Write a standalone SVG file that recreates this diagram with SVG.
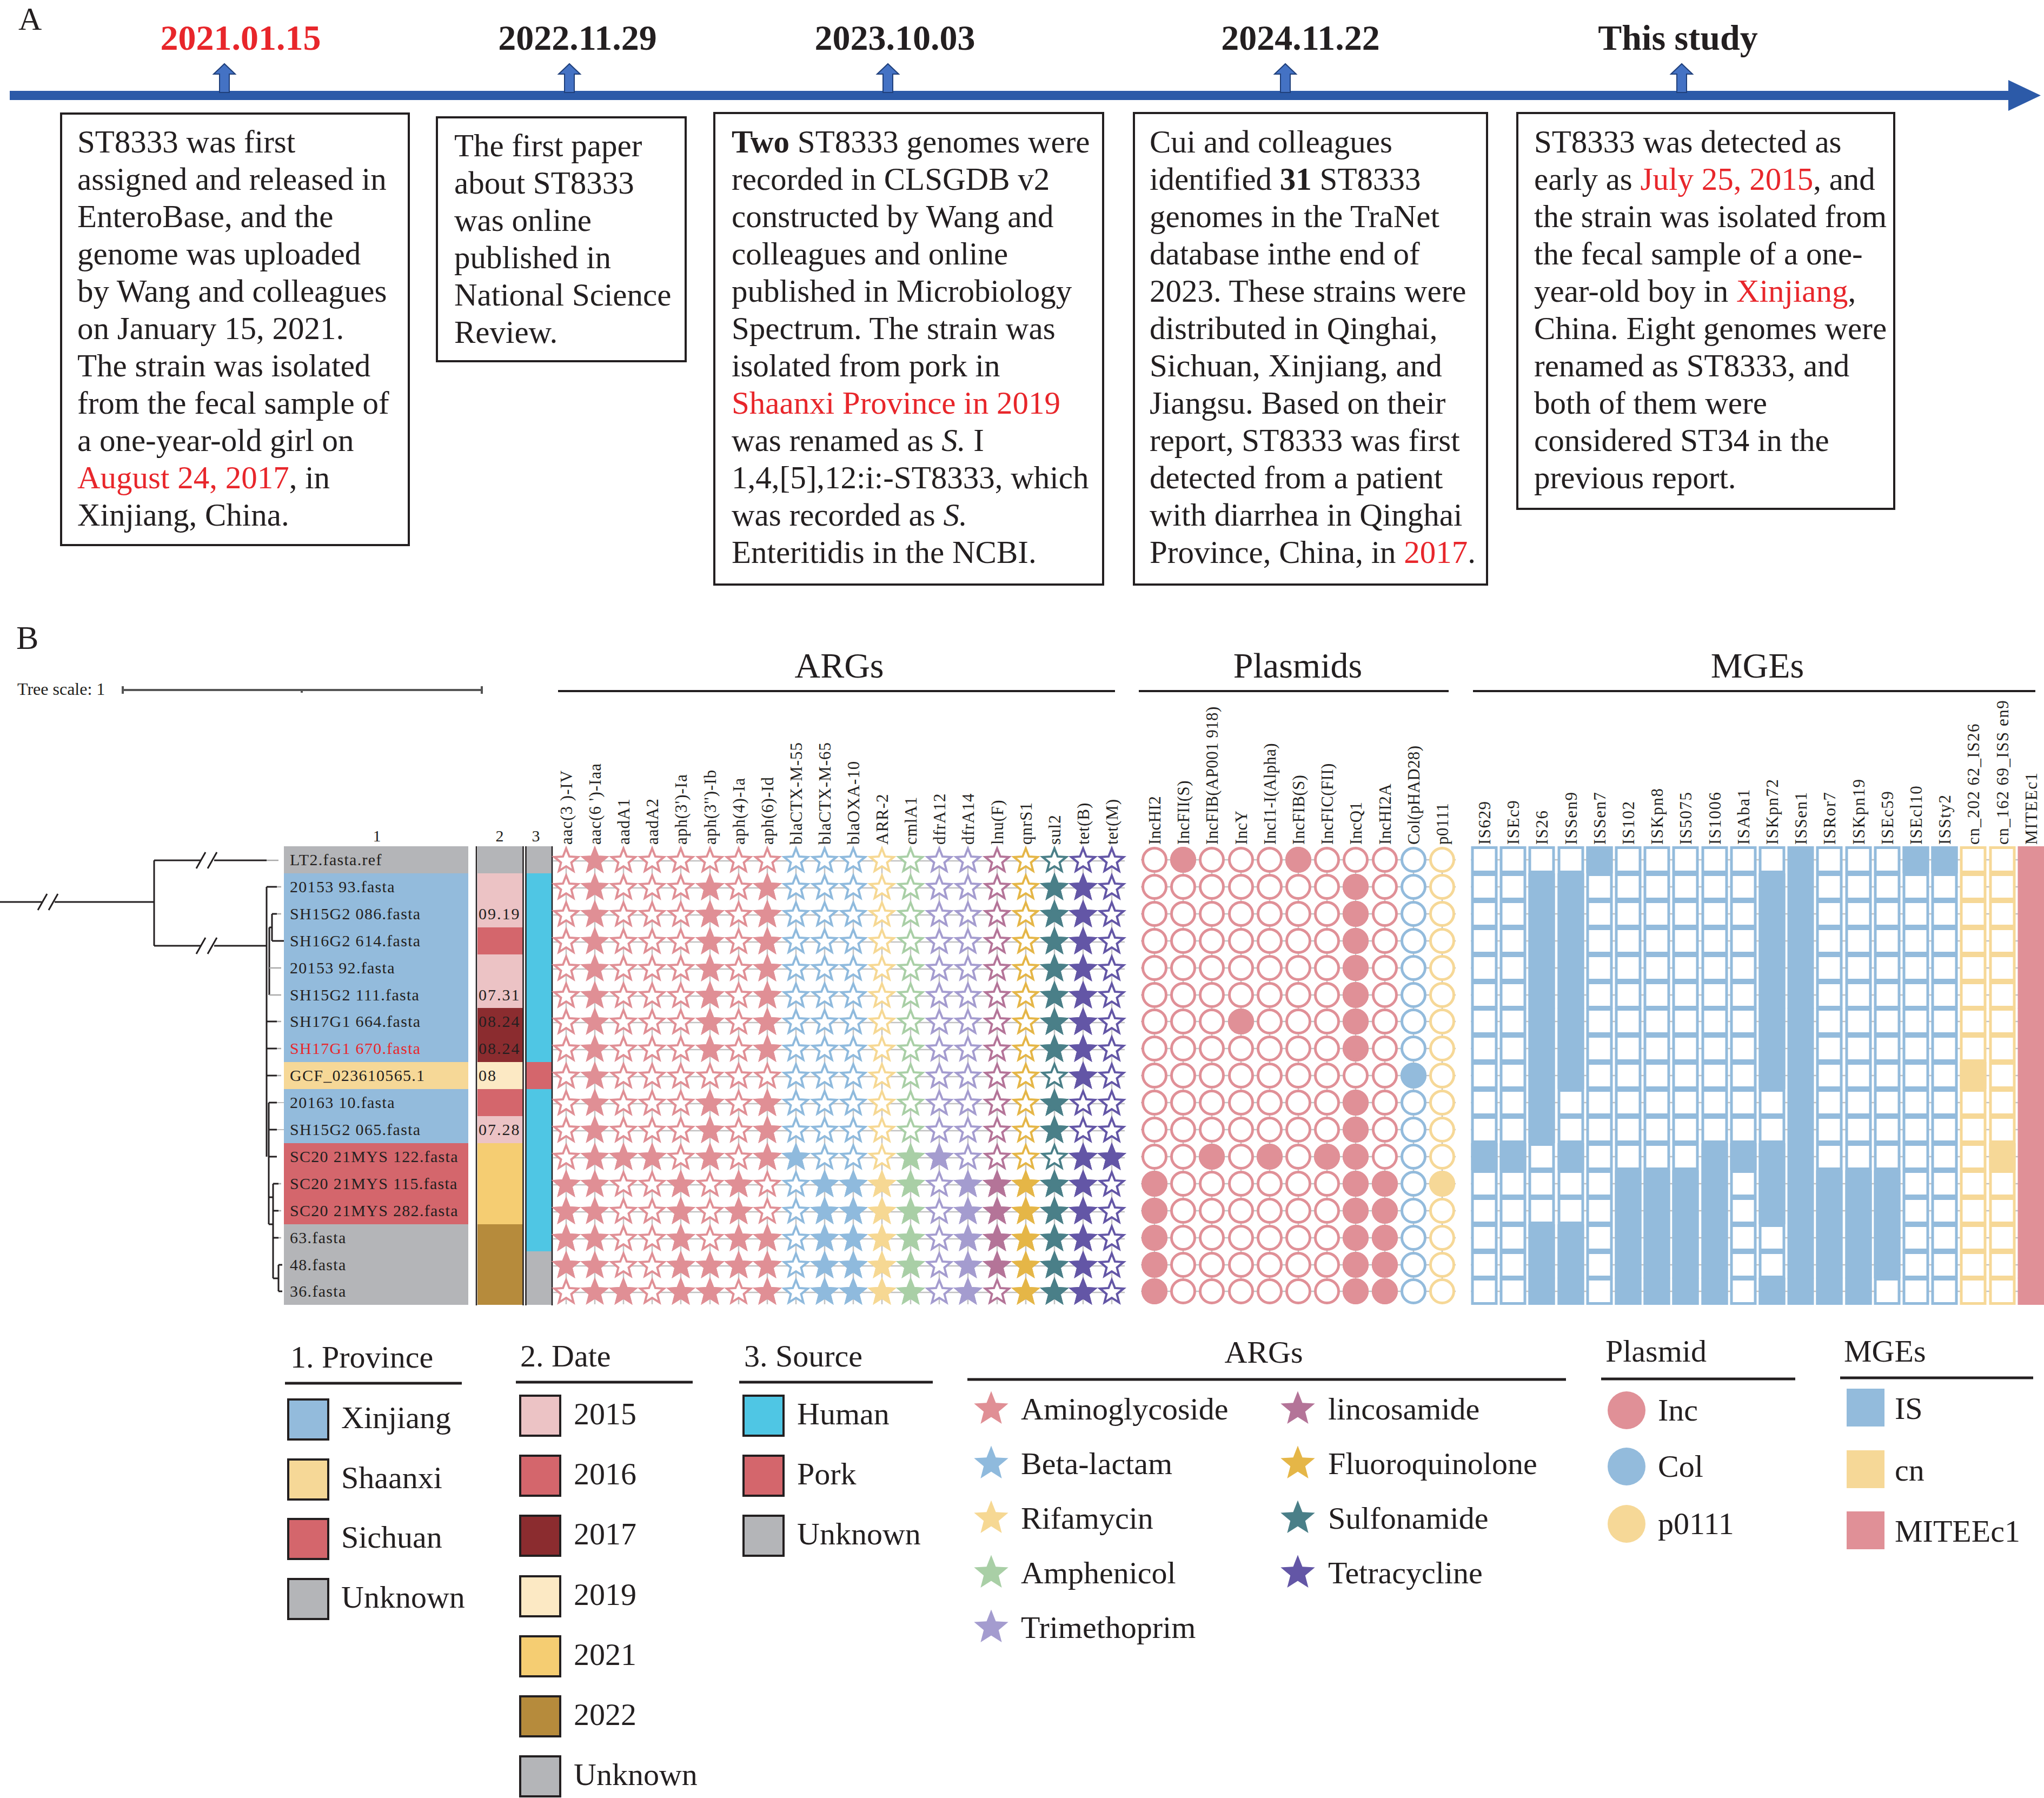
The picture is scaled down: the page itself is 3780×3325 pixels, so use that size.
<svg xmlns="http://www.w3.org/2000/svg" xmlns:xlink="http://www.w3.org/1999/xlink" width="3780" height="3325" viewBox="0 0 3780 3325">
<style>
text{font-family:'Liberation Serif','Times New Roman',serif;fill:#231f20}
.t{font-size:59px}
.red{fill:#e8262b}
.date{font-size:66px;font-weight:bold;text-anchor:middle}
.box{fill:#fff;stroke:#231f20;stroke-width:4}
.lbl{font-size:30px;letter-spacing:1.3px}
.dl{font-size:30px;letter-spacing:2px}
.ha{font-size:31px;letter-spacing:1px}
.hp{font-size:31px;letter-spacing:0.4px}
.hm{font-size:31px;letter-spacing:1.5px}
.sec{font-size:66px;text-anchor:middle}
.leg{font-size:58px}
.rule{stroke:#231f20;stroke-width:5}
.e{fill:#fff}
.f{fill:currentColor}
.col{stroke:currentColor;stroke-width:4}
.colw{stroke:currentColor;stroke-width:5}
.k0{color:#e08f95}.k1{color:#8fbadd}.k2{color:#f6d893}.k3{color:#a9cfa6}.k4{color:#a49ccf}
.k5{color:#b47498}.k6{color:#e5b647}.k7{color:#4a7f88}.k8{color:#6356a6}
.kb{color:#93bbdc}.ky{color:#f6d897}.kp{color:#e09097}
.grid{stroke:#c2c2c2;stroke-width:2.5;fill:none}
.lb{stroke:#231f20;stroke-width:4}
</style>
<defs>
<path id="s" d="M0,-21 L5.88,-6.09 L21.87,-5.11 L9.51,5.09 L13.52,20.61 L0,12 L-13.52,20.61 L-9.51,5.09 L-21.87,-5.11 L-5.88,-6.09Z"/>
<circle id="c" r="21.5"/>
<rect id="q" x="-22" y="-22.5" width="44" height="45"/>
<path id="ua" d="M-9 171V137H-20L0 118L20 137H9V171Z" fill="#4472c4" stroke="#1f3f7a" stroke-width="2"/>
<g id="sc"><use href="#s" y="1590" class="e"/><use href="#s" y="1640" class="e"/><use href="#s" y="1690" class="e"/><use href="#s" y="1740" class="e"/><use href="#s" y="1790" class="e"/><use href="#s" y="1840" class="e"/><use href="#s" y="1889" class="e"/><use href="#s" y="1939" class="e"/><use href="#s" y="1989" class="e"/><use href="#s" y="2039" class="e"/><use href="#s" y="2089" class="e"/><use href="#s" y="2139" class="e"/><use href="#s" y="2189" class="e"/><use href="#s" y="2239" class="e"/><use href="#s" y="2289" class="e"/><use href="#s" y="2339" class="e"/><use href="#s" y="2388" class="e"/></g>
<g id="scf"><use href="#s" y="1590" class="f"/><use href="#s" y="1640" class="f"/><use href="#s" y="1690" class="f"/><use href="#s" y="1740" class="f"/><use href="#s" y="1790" class="f"/><use href="#s" y="1840" class="f"/><use href="#s" y="1889" class="f"/><use href="#s" y="1939" class="f"/><use href="#s" y="1989" class="f"/><use href="#s" y="2039" class="f"/><use href="#s" y="2089" class="f"/><use href="#s" y="2139" class="f"/><use href="#s" y="2189" class="f"/><use href="#s" y="2239" class="f"/><use href="#s" y="2289" class="f"/><use href="#s" y="2339" class="f"/><use href="#s" y="2388" class="f"/></g>
<g id="cc"><use href="#c" y="1590" class="e"/><use href="#c" y="1640" class="e"/><use href="#c" y="1690" class="e"/><use href="#c" y="1740" class="e"/><use href="#c" y="1790" class="e"/><use href="#c" y="1840" class="e"/><use href="#c" y="1889" class="e"/><use href="#c" y="1939" class="e"/><use href="#c" y="1989" class="e"/><use href="#c" y="2039" class="e"/><use href="#c" y="2089" class="e"/><use href="#c" y="2139" class="e"/><use href="#c" y="2189" class="e"/><use href="#c" y="2239" class="e"/><use href="#c" y="2289" class="e"/><use href="#c" y="2339" class="e"/><use href="#c" y="2388" class="e"/></g>
<g id="qc"><use href="#q" y="1590" class="e"/><use href="#q" y="1640" class="e"/><use href="#q" y="1690" class="e"/><use href="#q" y="1740" class="e"/><use href="#q" y="1790" class="e"/><use href="#q" y="1840" class="e"/><use href="#q" y="1889" class="e"/><use href="#q" y="1939" class="e"/><use href="#q" y="1989" class="e"/><use href="#q" y="2039" class="e"/><use href="#q" y="2089" class="e"/><use href="#q" y="2139" class="e"/><use href="#q" y="2189" class="e"/><use href="#q" y="2239" class="e"/><use href="#q" y="2289" class="e"/><use href="#q" y="2339" class="e"/><use href="#q" y="2388" class="e"/></g>
<g id="qcf"><use href="#q" y="1590" class="f"/><use href="#q" y="1640" class="f"/><use href="#q" y="1690" class="f"/><use href="#q" y="1740" class="f"/><use href="#q" y="1790" class="f"/><use href="#q" y="1840" class="f"/><use href="#q" y="1889" class="f"/><use href="#q" y="1939" class="f"/><use href="#q" y="1989" class="f"/><use href="#q" y="2039" class="f"/><use href="#q" y="2089" class="f"/><use href="#q" y="2139" class="f"/><use href="#q" y="2189" class="f"/><use href="#q" y="2239" class="f"/><use href="#q" y="2289" class="f"/><use href="#q" y="2339" class="f"/><use href="#q" y="2388" class="f"/></g>
</defs>
<rect width="3780" height="3325" fill="#fff"/>

<!-- Panel A -->
<g id="panelA">
<text x="34" y="55" font-size="60">A</text>
<g id="timeline">
<rect x="18" y="168" width="3700" height="17" fill="#2c5aa8"/>
<polygon points="3714,148 3774,176.5 3714,205" fill="#2c5aa8"/>
<use href="#ua" x="415"/><use href="#ua" x="1053"/><use href="#ua" x="1642"/><use href="#ua" x="2377"/><use href="#ua" x="3110"/>
</g>
<g id="dates">
<text class="date red" x="445" y="92">2021.01.15</text>
<text class="date" x="1068" y="92">2022.11.29</text>
<text class="date" x="1655" y="92">2023.10.03</text>
<text class="date" x="2405" y="92">2024.11.22</text>
<text class="date" x="3103" y="92">This study</text>
</g>
<g id="box1">
<rect class="box" x="113" y="210" width="643" height="798"/>
<text class="t"><tspan x="143" y="282">ST8333 was first</tspan><tspan x="143" dy="69">assigned and released in</tspan><tspan x="143" dy="69">EnteroBase, and the</tspan><tspan x="143" dy="69">genome was uploaded</tspan><tspan x="143" dy="69">by Wang and colleagues</tspan><tspan x="143" dy="69">on January 15, 2021.</tspan><tspan x="143" dy="69">The strain was isolated</tspan><tspan x="143" dy="69">from the fecal sample of</tspan><tspan x="143" dy="69">a one-year-old girl on</tspan><tspan x="143" dy="69"><tspan class="red">August 24, 2017</tspan>, in</tspan><tspan x="143" dy="69">Xinjiang, China.</tspan></text>
</g>
<g id="box2">
<rect class="box" x="808" y="217" width="460" height="451"/>
<text class="t"><tspan x="840" y="289">The first paper</tspan><tspan x="840" dy="69">about ST8333</tspan><tspan x="840" dy="69">was online</tspan><tspan x="840" dy="69">published in</tspan><tspan x="840" dy="69">National Science</tspan><tspan x="840" dy="69">Review.</tspan></text>
</g>
<g id="box3">
<rect class="box" x="1321" y="209" width="719" height="872"/>
<text class="t"><tspan x="1353" y="282"><tspan font-weight="bold">Two</tspan> ST8333 genomes were</tspan><tspan x="1353" dy="69">recorded in CLSGDB v2</tspan><tspan x="1353" dy="69">constructed by Wang and</tspan><tspan x="1353" dy="69">colleagues and online</tspan><tspan x="1353" dy="69">published in Microbiology</tspan><tspan x="1353" dy="69">Spectrum. The strain was</tspan><tspan x="1353" dy="69">isolated from pork in</tspan><tspan x="1353" dy="69" class="red">Shaanxi Province in 2019</tspan><tspan x="1353" dy="69">was renamed as <tspan font-style="italic">S.</tspan> I</tspan><tspan x="1353" dy="69">1,4,[5],12:i:-ST8333, which</tspan><tspan x="1353" dy="69">was recorded as <tspan font-style="italic">S.</tspan></tspan><tspan x="1353" dy="69">Enteritidis in the NCBI.</tspan></text>
</g>
<g id="box4">
<rect class="box" x="2097" y="209" width="653" height="872"/>
<text class="t"><tspan x="2126" y="282">Cui and colleagues</tspan><tspan x="2126" dy="69">identified <tspan font-weight="bold">31</tspan> ST8333</tspan><tspan x="2126" dy="69">genomes in the TraNet</tspan><tspan x="2126" dy="69">database inthe end of</tspan><tspan x="2126" dy="69">2023. These strains were</tspan><tspan x="2126" dy="69">distributed in Qinghai,</tspan><tspan x="2126" dy="69">Sichuan, Xinjiang, and</tspan><tspan x="2126" dy="69">Jiangsu. Based on their</tspan><tspan x="2126" dy="69">report, ST8333 was first</tspan><tspan x="2126" dy="69">detected from a patient</tspan><tspan x="2126" dy="69">with diarrhea in Qinghai</tspan><tspan x="2126" dy="69">Province, China, in <tspan class="red">2017</tspan>.</tspan></text>
</g>
<g id="box5">
<rect class="box" x="2806" y="209" width="697" height="732"/>
<text class="t"><tspan x="2837" y="282">ST8333 was detected as</tspan><tspan x="2837" dy="69">early as <tspan class="red">July 25, 2015</tspan>, and</tspan><tspan x="2837" dy="69">the strain was isolated from</tspan><tspan x="2837" dy="69">the fecal sample of a one-</tspan><tspan x="2837" dy="69">year-old boy in <tspan class="red">Xinjiang</tspan>,</tspan><tspan x="2837" dy="69">China. Eight genomes were</tspan><tspan x="2837" dy="69">renamed as ST8333, and</tspan><tspan x="2837" dy="69">both of them were</tspan><tspan x="2837" dy="69">considered ST34 in the</tspan><tspan x="2837" dy="69">previous report.</tspan></text>
</g>
</g>

<!-- Panel B -->
<g id="panelB">
<text x="30" y="1200" font-size="62">B</text>
<g id="treescale">
<text x="32" y="1285" font-size="32">Tree scale: 1</text>
<path d="M227 1276H891M227 1269V1283M891 1269V1283M558 1276V1281" stroke="#555" stroke-width="4" fill="none"/>
</g>
<g id="tree" fill="none">
<g stroke="#231f20" stroke-width="3">
<path d="M0 1668H77M101 1668H285M285 1591V1749M285 1591H372M396 1591H493M285 1749H372M396 1749H493"/>
<path d="M70 1683L87 1653M90 1683L107 1653M363 1606L380 1576M384 1606L401 1576M363 1764L380 1734M384 1764L401 1734"/>
<path d="M493 1640V2139M497 2039V2264M505 2214V2364M493 1640H512M503 1690V1740M503 1690H512M503 1740H525M498 1715V1840M498 1715H503M493 1889H512M493 1939H512M493 1989H512M497 2039H512M497 2089H512M497 2139H512M505 2189V2239M505 2189H515M505 2239H515M497 2214H505M497 2264H505M505 2289H515M515 2339V2388M515 2339H522M515 2388H522M505 2364H515"/>
</g>
<path d="M493 1591H515M512 1640H520M512 1690H520M498 1790H520M498 1840H520M512 1889H520M512 1939H520M512 1989H520M515 2189H520M515 2239H520M515 2289H520" stroke="#aaa" stroke-width="2.5"/>
<path d="M512 2039H536M512 2089H536" stroke="#aaa" stroke-width="1.5"/>
</g>

<g id="colnums" font-size="30" text-anchor="middle">
<text x="697" y="1556">1</text><text x="924" y="1556">2</text><text x="991" y="1556">3</text>
</g>
<g id="province-col">
<rect x="525" y="1565" width="341" height="50" fill="#b4b5b8"/>
<rect x="525" y="1615" width="341" height="349" fill="#93bbdc"/>
<rect x="525" y="1964" width="341" height="50" fill="#f6d897"/>
<rect x="525" y="2014" width="341" height="100" fill="#93bbdc"/>
<rect x="525" y="2114" width="341" height="150" fill="#d4666c"/>
<rect x="525" y="2264" width="341" height="149" fill="#b4b5b8"/>
</g>
<g id="labels" class="lbl">
<text x="536" y="1600">LT2.fasta.ref</text>
<text x="536" y="1650">20153 93.fasta</text>
<text x="536" y="1700">SH15G2 086.fasta</text>
<text x="536" y="1750">SH16G2 614.fasta</text>
<text x="536" y="1800">20153 92.fasta</text>
<text x="536" y="1850">SH15G2 111.fasta</text>
<text x="536" y="1899">SH17G1 664.fasta</text>
<text x="536" y="1949" class="red">SH17G1 670.fasta</text>
<text x="536" y="1999">GCF_023610565.1</text>
<text x="536" y="2049">20163 10.fasta</text>
<text x="536" y="2099">SH15G2 065.fasta</text>
<text x="536" y="2149">SC20 21MYS 122.fasta</text>
<text x="536" y="2199">SC20 21MYS 115.fasta</text>
<text x="536" y="2249">SC20 21MYS 282.fasta</text>
<text x="536" y="2299">63.fasta</text>
<text x="536" y="2349">48.fasta</text>
<text x="536" y="2398">36.fasta</text>
</g>
<g id="date-col">
<rect x="883" y="1565" width="84" height="50" fill="#b4b5b8"/>
<rect x="883" y="1615" width="84" height="100" fill="#ecc3c5"/>
<rect x="883" y="1715" width="84" height="50" fill="#d4666c"/>
<rect x="883" y="1765" width="84" height="99" fill="#ecc3c5"/>
<rect x="883" y="1864" width="84" height="100" fill="#8b2c2f"/>
<rect x="883" y="1964" width="84" height="50" fill="#fce9c4"/>
<rect x="883" y="2014" width="84" height="50" fill="#d4666c"/>
<rect x="883" y="2064" width="84" height="50" fill="#ecc3c5"/>
<rect x="883" y="2114" width="84" height="150" fill="#f5cd72"/>
<rect x="883" y="2264" width="84" height="149" fill="#b68b3c"/>
<g class="dl">
<text x="885" y="1700">09.19</text><text x="885" y="1850">07.31</text><text x="885" y="1899">08.24</text><text x="885" y="1949">08.24</text><text x="885" y="1999">08</text><text x="885" y="2099">07.28</text>
</g>
</g>
<g id="source-col">
<rect x="973" y="1565" width="47" height="50" fill="#b4b5b8"/>
<rect x="973" y="1615" width="47" height="349" fill="#4fc6e4"/>
<rect x="973" y="1964" width="47" height="50" fill="#d4666c"/>
<rect x="973" y="2014" width="47" height="300" fill="#4fc6e4"/>
<rect x="973" y="2314" width="47" height="99" fill="#b4b5b8"/>
</g>
<path d="M881 1565V2414M967.5 1565V2414M972.5 1565V2414M1021 1565V2414" stroke="#231f20" stroke-width="2.5"/>

<g id="headers">
<text class="sec" x="1552" y="1253">ARGs</text>
<line class="lb" x1="1032" y1="1278" x2="2062" y2="1278"/>
<text class="sec" x="2400" y="1253">Plasmids</text>
<line class="lb" x1="2106" y1="1278" x2="2679" y2="1278"/>
<text class="sec" x="3250" y="1253">MGEs</text>
<line class="lb" x1="2724" y1="1278" x2="3764" y2="1278"/>
</g>
<g id="arg-labels" class="ha">
<text transform="translate(1058 1562) rotate(-90)">aac(3 )-IV</text>
<text transform="translate(1111 1562) rotate(-90)">aac(6 ')-Iaa</text>
<text transform="translate(1164 1562) rotate(-90)">aadA1</text>
<text transform="translate(1217 1562) rotate(-90)">aadA2</text>
<text transform="translate(1270 1562) rotate(-90)">aph(3')-Ia</text>
<text transform="translate(1324 1562) rotate(-90)">aph(3'')-Ib</text>
<text transform="translate(1377 1562) rotate(-90)">aph(4)-Ia</text>
<text transform="translate(1430 1562) rotate(-90)">aph(6)-Id</text>
<text transform="translate(1483 1562) rotate(-90)">blaCTX-M-55</text>
<text transform="translate(1536 1562) rotate(-90)">blaCTX-M-65</text>
<text transform="translate(1589 1562) rotate(-90)">blaOXA-10</text>
<text transform="translate(1642 1562) rotate(-90)">ARR-2</text>
<text transform="translate(1695 1562) rotate(-90)">cmlA1</text>
<text transform="translate(1748 1562) rotate(-90)">dfrA12</text>
<text transform="translate(1801 1562) rotate(-90)">dfrA14</text>
<text transform="translate(1855 1562) rotate(-90)">lnu(F)</text>
<text transform="translate(1908 1562) rotate(-90)">qnrS1</text>
<text transform="translate(1961 1562) rotate(-90)">sul2</text>
<text transform="translate(2014 1562) rotate(-90)">tet(B)</text>
<text transform="translate(2067 1562) rotate(-90)">tet(M)</text>
</g>
<g id="plasmid-labels" class="hp">
<text transform="translate(2146 1562) rotate(-90)">IncHI2</text>
<text transform="translate(2199 1562) rotate(-90)">IncFII(S)</text>
<text transform="translate(2252 1562) rotate(-90)">IncFIB(AP001 918)</text>
<text transform="translate(2306 1562) rotate(-90)">IncY</text>
<text transform="translate(2359 1562) rotate(-90)">IncI1-I(Alpha)</text>
<text transform="translate(2412 1562) rotate(-90)">IncFIB(S)</text>
<text transform="translate(2465 1562) rotate(-90)">IncFIC(FII)</text>
<text transform="translate(2518 1562) rotate(-90)">IncQ1</text>
<text transform="translate(2572 1562) rotate(-90)">IncHI2A</text>
<text transform="translate(2625 1562) rotate(-90)">Col(pHAD28)</text>
<text transform="translate(2678 1562) rotate(-90)">p0111</text>
</g>
<g id="mge-labels" class="hm">
<text transform="translate(2756 1562) rotate(-90)">IS629</text>
<text transform="translate(2809 1562) rotate(-90)">ISEc9</text>
<text transform="translate(2862 1562) rotate(-90)">IS26</text>
<text transform="translate(2916 1562) rotate(-90)">ISSen9</text>
<text transform="translate(2969 1562) rotate(-90)">ISSen7</text>
<text transform="translate(3022 1562) rotate(-90)">IS102</text>
<text transform="translate(3075 1562) rotate(-90)">ISKpn8</text>
<text transform="translate(3128 1562) rotate(-90)">IS5075</text>
<text transform="translate(3182 1562) rotate(-90)">IS1006</text>
<text transform="translate(3235 1562) rotate(-90)">ISAba1</text>
<text transform="translate(3288 1562) rotate(-90)">ISKpn72</text>
<text transform="translate(3341 1562) rotate(-90)">ISSen1</text>
<text transform="translate(3394 1562) rotate(-90)">ISRor7</text>
<text transform="translate(3448 1562) rotate(-90)">ISKpn19</text>
<text transform="translate(3501 1562) rotate(-90)">ISEc59</text>
<text transform="translate(3554 1562) rotate(-90)">ISEcl10</text>
<text transform="translate(3607 1562) rotate(-90)">ISSty2</text>
<text transform="translate(3660 1562) rotate(-90)">cn_202 62_IS26</text>
<text transform="translate(3714 1562) rotate(-90)">cn_162 69_ISS en9</text>
<text transform="translate(3767 1562) rotate(-90)">MITEEc1</text>
</g>

<g id="grids" class="grid">
<path d="M1023 1592H2080M1023 1642H2080M1023 1692H2080M1023 1742H2080M1023 1792H2080M1023 1842H2080M1023 1891H2080M1023 1941H2080M1023 1991H2080M1023 2041H2080M1023 2091H2080M1023 2141H2080M1023 2191H2080M1023 2241H2080M1023 2291H2080M1023 2341H2080M1023 2390H2080M1047 1566V2412M1100 1566V2412M1153 1566V2412M1206 1566V2412M1259 1566V2412M1313 1566V2412M1366 1566V2412M1419 1566V2412M1472 1566V2412M1525 1566V2412M1578 1566V2412M1631 1566V2412M1684 1566V2412M1737 1566V2412M1790 1566V2412M1844 1566V2412M1897 1566V2412M1950 1566V2412M2003 1566V2412M2056 1566V2412"/>
<path d="M2110 1590H2692M2110 1640H2692M2110 1690H2692M2110 1740H2692M2110 1790H2692M2110 1840H2692M2110 1889H2692M2110 1939H2692M2110 1989H2692M2110 2039H2692M2110 2089H2692M2110 2139H2692M2110 2189H2692M2110 2239H2692M2110 2289H2692M2110 2339H2692M2110 2388H2692M2135 1566V2412M2188 1566V2412M2241 1566V2412M2295 1566V2412M2348 1566V2412M2401 1566V2412M2454 1566V2412M2507 1566V2412M2561 1566V2412M2614 1566V2412M2667 1566V2412"/>
<path d="M2720 1590H3780M2720 1640H3780M2720 1690H3780M2720 1740H3780M2720 1790H3780M2720 1840H3780M2720 1889H3780M2720 1939H3780M2720 1989H3780M2720 2039H3780M2720 2089H3780M2720 2139H3780M2720 2189H3780M2720 2239H3780M2720 2289H3780M2720 2339H3780M2720 2388H3780M2745 1566V2412M2798 1566V2412M2851 1566V2412M2905 1566V2412M2958 1566V2412M3011 1566V2412M3064 1566V2412M3117 1566V2412M3171 1566V2412M3224 1566V2412M3277 1566V2412M3330 1566V2412M3383 1566V2412M3437 1566V2412M3490 1566V2412M3543 1566V2412M3596 1566V2412M3649 1566V2412M3703 1566V2412"/>
</g>

<g id="arg-grid">
<g class="col k0" transform="translate(1047 0)"><use href="#sc"/><use href="#s" y="2189" class="f"/><use href="#s" y="2239" class="f"/><use href="#s" y="2289" class="f"/><use href="#s" y="2339" class="f"/></g>
<g class="col k0" transform="translate(1100 0)"><use href="#scf"/></g>
<g class="col k0" transform="translate(1153 0)"><use href="#sc"/><use href="#s" y="2139" class="f"/><use href="#s" y="2388" class="f"/></g>
<g class="col k0" transform="translate(1206 0)"><use href="#sc"/><use href="#s" y="2139" class="f"/></g>
<g class="col k0" transform="translate(1259 0)"><use href="#sc"/><use href="#s" y="2189" class="f"/><use href="#s" y="2239" class="f"/><use href="#s" y="2289" class="f"/><use href="#s" y="2339" class="f"/><use href="#s" y="2388" class="f"/></g>
<g class="col k0" transform="translate(1313 0)"><use href="#sc"/><use href="#s" y="1640" class="f"/><use href="#s" y="1690" class="f"/><use href="#s" y="1740" class="f"/><use href="#s" y="1790" class="f"/><use href="#s" y="1840" class="f"/><use href="#s" y="1889" class="f"/><use href="#s" y="1939" class="f"/><use href="#s" y="2039" class="f"/><use href="#s" y="2089" class="f"/><use href="#s" y="2139" class="f"/><use href="#s" y="2339" class="f"/><use href="#s" y="2388" class="f"/></g>
<g class="col k0" transform="translate(1366 0)"><use href="#sc"/><use href="#s" y="2189" class="f"/><use href="#s" y="2239" class="f"/><use href="#s" y="2289" class="f"/><use href="#s" y="2339" class="f"/></g>
<g class="col k0" transform="translate(1419 0)"><use href="#sc"/><use href="#s" y="1640" class="f"/><use href="#s" y="1690" class="f"/><use href="#s" y="1740" class="f"/><use href="#s" y="1790" class="f"/><use href="#s" y="1840" class="f"/><use href="#s" y="1889" class="f"/><use href="#s" y="1939" class="f"/><use href="#s" y="2039" class="f"/><use href="#s" y="2089" class="f"/><use href="#s" y="2139" class="f"/><use href="#s" y="2289" class="f"/><use href="#s" y="2339" class="f"/><use href="#s" y="2388" class="f"/></g>
<g class="col k1" transform="translate(1472 0)"><use href="#sc"/><use href="#s" y="2139" class="f"/></g>
<g class="col k1" transform="translate(1525 0)"><use href="#sc"/><use href="#s" y="2189" class="f"/><use href="#s" y="2239" class="f"/><use href="#s" y="2289" class="f"/><use href="#s" y="2339" class="f"/><use href="#s" y="2388" class="f"/></g>
<g class="col k1" transform="translate(1578 0)"><use href="#sc"/><use href="#s" y="2189" class="f"/><use href="#s" y="2239" class="f"/><use href="#s" y="2289" class="f"/><use href="#s" y="2339" class="f"/><use href="#s" y="2388" class="f"/></g>
<g class="col k2" transform="translate(1631 0)"><use href="#sc"/><use href="#s" y="2189" class="f"/><use href="#s" y="2239" class="f"/><use href="#s" y="2289" class="f"/><use href="#s" y="2339" class="f"/><use href="#s" y="2388" class="f"/></g>
<g class="col k3" transform="translate(1684 0)"><use href="#sc"/><use href="#s" y="2139" class="f"/><use href="#s" y="2189" class="f"/><use href="#s" y="2239" class="f"/><use href="#s" y="2289" class="f"/><use href="#s" y="2339" class="f"/><use href="#s" y="2388" class="f"/></g>
<g class="col k4" transform="translate(1737 0)"><use href="#sc"/><use href="#s" y="2139" class="f"/></g>
<g class="col k4" transform="translate(1790 0)"><use href="#sc"/><use href="#s" y="2189" class="f"/><use href="#s" y="2239" class="f"/><use href="#s" y="2289" class="f"/><use href="#s" y="2339" class="f"/><use href="#s" y="2388" class="f"/></g>
<g class="col k5" transform="translate(1844 0)"><use href="#sc"/><use href="#s" y="2189" class="f"/><use href="#s" y="2239" class="f"/><use href="#s" y="2289" class="f"/><use href="#s" y="2339" class="f"/></g>
<g class="col k6" transform="translate(1897 0)"><use href="#sc"/><use href="#s" y="2189" class="f"/><use href="#s" y="2239" class="f"/><use href="#s" y="2289" class="f"/><use href="#s" y="2339" class="f"/><use href="#s" y="2388" class="f"/></g>
<g class="col k7" transform="translate(1950 0)"><use href="#sc"/><use href="#s" y="1640" class="f"/><use href="#s" y="1690" class="f"/><use href="#s" y="1740" class="f"/><use href="#s" y="1790" class="f"/><use href="#s" y="1840" class="f"/><use href="#s" y="1889" class="f"/><use href="#s" y="1939" class="f"/><use href="#s" y="2039" class="f"/><use href="#s" y="2089" class="f"/><use href="#s" y="2189" class="f"/><use href="#s" y="2239" class="f"/><use href="#s" y="2289" class="f"/><use href="#s" y="2339" class="f"/><use href="#s" y="2388" class="f"/></g>
<g class="col k8" transform="translate(2003 0)"><use href="#sc"/><use href="#s" y="1640" class="f"/><use href="#s" y="1690" class="f"/><use href="#s" y="1740" class="f"/><use href="#s" y="1790" class="f"/><use href="#s" y="1840" class="f"/><use href="#s" y="1889" class="f"/><use href="#s" y="1939" class="f"/><use href="#s" y="1989" class="f"/><use href="#s" y="2139" class="f"/><use href="#s" y="2189" class="f"/><use href="#s" y="2239" class="f"/><use href="#s" y="2289" class="f"/><use href="#s" y="2339" class="f"/><use href="#s" y="2388" class="f"/></g>
<g class="col k8" transform="translate(2056 0)"><use href="#sc"/><use href="#s" y="2139" class="f"/></g>
</g>

<g id="plasmid-grid">
<g class="colw kp" transform="translate(2135 0)"><use href="#cc"/><use href="#c" y="2189" class="f"/><use href="#c" y="2239" class="f"/><use href="#c" y="2289" class="f"/><use href="#c" y="2339" class="f"/><use href="#c" y="2388" class="f"/></g>
<g class="colw kp" transform="translate(2188 0)"><use href="#cc"/><use href="#c" y="1590" class="f"/></g>
<g class="colw kp" transform="translate(2241 0)"><use href="#cc"/><use href="#c" y="2139" class="f"/></g>
<g class="colw kp" transform="translate(2295 0)"><use href="#cc"/><use href="#c" y="1889" class="f"/></g>
<g class="colw kp" transform="translate(2348 0)"><use href="#cc"/><use href="#c" y="2139" class="f"/></g>
<g class="colw kp" transform="translate(2401 0)"><use href="#cc"/><use href="#c" y="1590" class="f"/></g>
<g class="colw kp" transform="translate(2454 0)"><use href="#cc"/><use href="#c" y="2139" class="f"/></g>
<g class="colw kp" transform="translate(2507 0)"><use href="#cc"/><use href="#c" y="1640" class="f"/><use href="#c" y="1690" class="f"/><use href="#c" y="1740" class="f"/><use href="#c" y="1790" class="f"/><use href="#c" y="1840" class="f"/><use href="#c" y="1889" class="f"/><use href="#c" y="1939" class="f"/><use href="#c" y="2039" class="f"/><use href="#c" y="2089" class="f"/><use href="#c" y="2139" class="f"/><use href="#c" y="2189" class="f"/><use href="#c" y="2239" class="f"/><use href="#c" y="2289" class="f"/><use href="#c" y="2339" class="f"/><use href="#c" y="2388" class="f"/></g>
<g class="colw kp" transform="translate(2561 0)"><use href="#cc"/><use href="#c" y="2189" class="f"/><use href="#c" y="2239" class="f"/><use href="#c" y="2289" class="f"/><use href="#c" y="2339" class="f"/><use href="#c" y="2388" class="f"/></g>
<g class="colw kb" transform="translate(2614 0)"><use href="#cc"/><use href="#c" y="1989" class="f"/></g>
<g class="colw ky" transform="translate(2667 0)"><use href="#cc"/><use href="#c" y="2189" class="f"/></g>
</g>

<g id="mge-grid">
<g class="colw kb" transform="translate(2745 0)"><use href="#qc"/><use href="#q" y="2139" class="f"/></g>
<g class="colw kb" transform="translate(2798 0)"><use href="#qc"/><use href="#q" y="2139" class="f"/></g>
<g class="colw kb" transform="translate(2851 0)"><use href="#qc"/><use href="#q" y="1640" class="f"/><use href="#q" y="1690" class="f"/><use href="#q" y="1740" class="f"/><use href="#q" y="1790" class="f"/><use href="#q" y="1840" class="f"/><use href="#q" y="1889" class="f"/><use href="#q" y="1939" class="f"/><use href="#q" y="1989" class="f"/><use href="#q" y="2039" class="f"/><use href="#q" y="2089" class="f"/><use href="#q" y="2289" class="f"/><use href="#q" y="2339" class="f"/><use href="#q" y="2388" class="f"/></g>
<g class="colw kb" transform="translate(2905 0)"><use href="#qc"/><use href="#q" y="1640" class="f"/><use href="#q" y="1690" class="f"/><use href="#q" y="1740" class="f"/><use href="#q" y="1790" class="f"/><use href="#q" y="1840" class="f"/><use href="#q" y="1889" class="f"/><use href="#q" y="1939" class="f"/><use href="#q" y="1989" class="f"/><use href="#q" y="2139" class="f"/><use href="#q" y="2289" class="f"/><use href="#q" y="2339" class="f"/><use href="#q" y="2388" class="f"/></g>
<g class="colw kb" transform="translate(2958 0)"><use href="#qc"/><use href="#q" y="1590" class="f"/></g>
<g class="colw kb" transform="translate(3011 0)"><use href="#qc"/><use href="#q" y="2189" class="f"/><use href="#q" y="2239" class="f"/><use href="#q" y="2289" class="f"/><use href="#q" y="2339" class="f"/><use href="#q" y="2388" class="f"/></g>
<g class="colw kb" transform="translate(3064 0)"><use href="#qc"/><use href="#q" y="2189" class="f"/><use href="#q" y="2239" class="f"/><use href="#q" y="2289" class="f"/><use href="#q" y="2339" class="f"/><use href="#q" y="2388" class="f"/></g>
<g class="colw kb" transform="translate(3117 0)"><use href="#qc"/><use href="#q" y="2189" class="f"/><use href="#q" y="2239" class="f"/><use href="#q" y="2289" class="f"/><use href="#q" y="2339" class="f"/><use href="#q" y="2388" class="f"/></g>
<g class="colw kb" transform="translate(3171 0)"><use href="#qc"/><use href="#q" y="2139" class="f"/><use href="#q" y="2189" class="f"/><use href="#q" y="2239" class="f"/><use href="#q" y="2289" class="f"/><use href="#q" y="2339" class="f"/><use href="#q" y="2388" class="f"/></g>
<g class="colw kb" transform="translate(3224 0)"><use href="#qc"/><use href="#q" y="2139" class="f"/></g>
<g class="colw kb" transform="translate(3277 0)"><use href="#qc"/><use href="#q" y="1640" class="f"/><use href="#q" y="1690" class="f"/><use href="#q" y="1740" class="f"/><use href="#q" y="1790" class="f"/><use href="#q" y="1840" class="f"/><use href="#q" y="1889" class="f"/><use href="#q" y="1939" class="f"/><use href="#q" y="1989" class="f"/><use href="#q" y="2139" class="f"/><use href="#q" y="2189" class="f"/><use href="#q" y="2239" class="f"/><use href="#q" y="2388" class="f"/></g>
<g class="colw kb" transform="translate(3330 0)"><use href="#qcf"/></g>
<g class="colw kb" transform="translate(3383 0)"><use href="#qc"/><use href="#q" y="2189" class="f"/><use href="#q" y="2239" class="f"/><use href="#q" y="2289" class="f"/><use href="#q" y="2339" class="f"/><use href="#q" y="2388" class="f"/></g>
<g class="colw kb" transform="translate(3437 0)"><use href="#qc"/><use href="#q" y="2189" class="f"/><use href="#q" y="2239" class="f"/><use href="#q" y="2289" class="f"/><use href="#q" y="2339" class="f"/><use href="#q" y="2388" class="f"/></g>
<g class="colw kb" transform="translate(3490 0)"><use href="#qc"/><use href="#q" y="2189" class="f"/><use href="#q" y="2239" class="f"/><use href="#q" y="2289" class="f"/><use href="#q" y="2339" class="f"/></g>
<g class="colw kb" transform="translate(3543 0)"><use href="#qc"/><use href="#q" y="1590" class="f"/></g>
<g class="colw kb" transform="translate(3596 0)"><use href="#qc"/><use href="#q" y="1590" class="f"/></g>
<g class="colw ky" transform="translate(3649 0)"><use href="#qc"/><use href="#q" y="1989" class="f"/></g>
<g class="colw ky" transform="translate(3703 0)"><use href="#qc"/><use href="#q" y="2139" class="f"/></g>
<g class="colw kp" transform="translate(3756 0)"><use href="#qcf"/></g>
</g>

<!-- Legends -->
<g id="legend-province" class="leg">
<text x="537" y="2529">1. Province</text>
<line class="rule" x1="527" y1="2558" x2="854" y2="2558"/>
<rect x="533" y="2588" width="74" height="74" fill="#93bbdc" class="lb"/><text x="631" y="2641">Xinjiang</text>
<rect x="533" y="2699" width="74" height="74" fill="#f6d897" class="lb"/><text x="631" y="2752">Shaanxi</text>
<rect x="533" y="2809" width="74" height="74" fill="#d4666c" class="lb"/><text x="631" y="2862">Sichuan</text>
<rect x="533" y="2920" width="74" height="74" fill="#b4b5b8" class="lb"/><text x="631" y="2973">Unknown</text>
</g>
<g id="legend-date" class="leg">
<text x="962" y="2527">2. Date</text>
<line class="rule" x1="954" y1="2556" x2="1281" y2="2556"/>
<rect x="962" y="2581" width="74" height="74" fill="#ecc3c5" class="lb"/><text x="1061" y="2634">2015</text>
<rect x="962" y="2692" width="74" height="74" fill="#d4666c" class="lb"/><text x="1061" y="2745">2016</text>
<rect x="962" y="2803" width="74" height="74" fill="#8b2c2f" class="lb"/><text x="1061" y="2856">2017</text>
<rect x="962" y="2915" width="74" height="74" fill="#fce9c4" class="lb"/><text x="1061" y="2968">2019</text>
<rect x="962" y="3026" width="74" height="74" fill="#f5cd72" class="lb"/><text x="1061" y="3079">2021</text>
<rect x="962" y="3137" width="74" height="74" fill="#b68b3c" class="lb"/><text x="1061" y="3190">2022</text>
<rect x="962" y="3248" width="74" height="74" fill="#b4b5b8" class="lb"/><text x="1061" y="3301">Unknown</text>
</g>
<g id="legend-source" class="leg">
<text x="1376" y="2527">3. Source</text>
<line class="rule" x1="1367" y1="2556" x2="1725" y2="2556"/>
<rect x="1375" y="2581" width="74" height="74" fill="#4fc6e4" class="lb"/><text x="1474" y="2634">Human</text>
<rect x="1375" y="2692" width="74" height="74" fill="#d4666c" class="lb"/><text x="1474" y="2745">Pork</text>
<rect x="1375" y="2803" width="74" height="74" fill="#b4b5b8" class="lb"/><text x="1474" y="2856">Unknown</text>
</g>
<g id="legend-args" class="leg">
<text x="2337" y="2520" text-anchor="middle">ARGs</text>
<line class="rule" x1="1789" y1="2551" x2="2896" y2="2551"/>
<use href="#s" transform="translate(1833 2603) scale(1.45)" fill="#e08f95"/><text x="1888" y="2625">Aminoglycoside</text>
<use href="#s" transform="translate(1833 2704) scale(1.45)" fill="#8fbadd"/><text x="1888" y="2726">Beta-lactam</text>
<use href="#s" transform="translate(1833 2805) scale(1.45)" fill="#f6d893"/><text x="1888" y="2827">Rifamycin</text>
<use href="#s" transform="translate(1833 2906) scale(1.45)" fill="#a9cfa6"/><text x="1888" y="2928">Amphenicol</text>
<use href="#s" transform="translate(1833 3007) scale(1.45)" fill="#a49ccf"/><text x="1888" y="3029">Trimethoprim</text>
<use href="#s" transform="translate(2400 2603) scale(1.45)" fill="#b47498"/><text x="2456" y="2625">lincosamide</text>
<use href="#s" transform="translate(2400 2704) scale(1.45)" fill="#e5b647"/><text x="2456" y="2726">Fluoroquinolone</text>
<use href="#s" transform="translate(2400 2805) scale(1.45)" fill="#4a7f88"/><text x="2456" y="2827">Sulfonamide</text>
<use href="#s" transform="translate(2400 2906) scale(1.45)" fill="#6356a6"/><text x="2456" y="2928">Tetracycline</text>
</g>
<g id="legend-plasmid" class="leg">
<text x="2969" y="2518">Plasmid</text>
<line class="rule" x1="2961" y1="2550" x2="3320" y2="2550"/>
<circle cx="3008" cy="2608" r="35" fill="#e09097"/><text x="3066" y="2627">Inc</text>
<circle cx="3008" cy="2712" r="35" fill="#93bbdc"/><text x="3066" y="2731">Col</text>
<circle cx="3008" cy="2818" r="35" fill="#f6d897"/><text x="3066" y="2837">p0111</text>
</g>
<g id="legend-mges" class="leg">
<text x="3410" y="2518">MGEs</text>
<line class="rule" x1="3403" y1="2548" x2="3760" y2="2548"/>
<rect x="3415" y="2568" width="70" height="70" fill="#93bbdc"/><text x="3504" y="2624">IS</text>
<rect x="3415" y="2682" width="70" height="70" fill="#f6d897"/><text x="3504" y="2738">cn</text>
<rect x="3415" y="2795" width="70" height="70" fill="#e09097"/><text x="3504" y="2851">MITEEc1</text>
</g>
</g>
</svg>
